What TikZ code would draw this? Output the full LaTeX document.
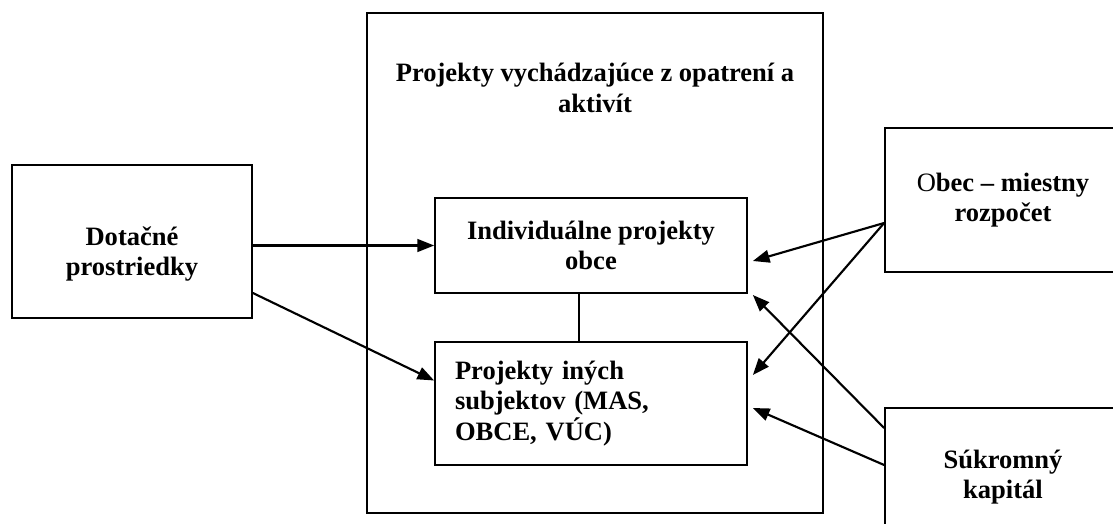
\documentclass[tikz,border=0pt]{standalone}
\usepackage{fontspec}
\setmainfont{Liberation Serif}
\usetikzlibrary{arrows.meta,calc}

\tikzset{
  box/.style={draw, line width=1.3pt, rectangle, inner sep=0pt},
  lbl/.style={font=\fontsize{19.9}{23}\selectfont\bfseries, align=center, inner sep=0.75pt},
  arr/.style={line width=1.6pt, -{Triangle[length=12.5pt,width=9.5pt]}},
  link/.style={line width=1.3pt}
}

\begin{document}
\begin{tikzpicture}[x=0.75pt,y=0.75pt,yscale=-1,xscale=1]
\useasboundingbox (0,0) rectangle (1113,524);
\clip (0,0) rectangle (1113,524);
%Outer frame
\node [box, minimum width=342pt, minimum height=375pt] (outer) at (595,263) {};
\node [lbl] (title) at (595,88) {Projekty vychádzajúce z opatrení a\\aktivít};
%Left box
\node [box, minimum width=180pt, minimum height=114.75pt] (dot) at (132,241.5) {};
\node [lbl] (dottxt) at (132,254) {Dotačné\\prostriedky};
%Inner boxes
\node [box, lbl, minimum width=234pt, minimum height=71.25pt] (ind) at (591,245.5) {Individuálne projekty\\obce};
\node [box, lbl, align=left, text width=204pt, inner xsep=15pt, minimum width=234pt, minimum height=92.25pt] (ine) at (591,403.5) {Projekty iných\\subjektov (MAS,\\OBCE, VÚC)};
%Right boxes
\node [box, lbl, minimum width=177pt, minimum height=108pt] (obec) at (1003,200) {\textmd{O}bec -- miestny\\rozpočet};
\node [box, lbl, minimum width=177pt, minimum height=103.5pt] (suk) at (1003,477) {Súkromný\\kapitál};

%Connectors
\draw [link] ($(ind.south)+(-12,0)$) -- ($(ine.north)+(-12,0)$);
\draw [arr] (dot.east |- ind.west) -- (ind.west);
\draw [arr] ($(dot.east)+(0,51.5)$) -- ($(ine.west)+(0,-23)$);
\draw [arr] ($(obec.west)+(0,23)$) -- ($(ind.east)+(5,15.5)$);
\draw [arr] ($(obec.west)+(0,23)$) -- ($(ine.east)+(5,-28.5)$);
\draw [arr] ($(suk.west)+(0,-49)$) -- ($(ind.east)+(5,49.5)$);
\draw [arr] ($(suk.west)+(0,-12)$) -- ($(ine.east)+(5,4.5)$);
\end{tikzpicture}
\end{document}
